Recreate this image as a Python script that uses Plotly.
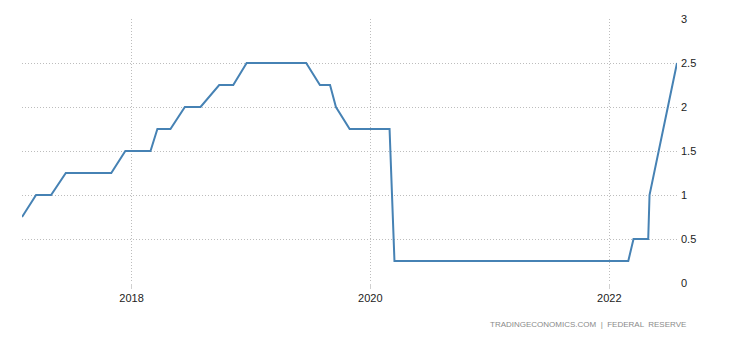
import plotly.graph_objects as go

dates = [
    "2017-01-31", "2017-03-15", "2017-04-30", "2017-06-14", "2017-10-31",
    "2017-12-13", "2018-02-28", "2018-03-21", "2018-04-30", "2018-06-13",
    "2018-07-31", "2018-09-26", "2018-11-08", "2018-12-19", "2019-06-19",
    "2019-07-31", "2019-08-31", "2019-09-18", "2019-10-30", "2020-02-29",
    "2020-03-15", "2022-02-28", "2022-03-16", "2022-04-30", "2022-05-04",
    "2022-06-15", "2022-07-27",
]
rates = [
    0.75, 1.00, 1.00, 1.25, 1.25,
    1.50, 1.50, 1.75, 1.75, 2.00,
    2.00, 2.25, 2.25, 2.50, 2.50,
    2.25, 2.25, 2.00, 1.75, 1.75,
    0.25, 0.25, 0.50, 0.50, 1.00,
    1.75, 2.50,
]
x_ticks = ["2018-01-01", "2020-01-01", "2022-01-01"]
x_tick_labels = ["2018", "2020", "2022"]
y_ticks = [0, 0.5, 1, 1.5, 2, 2.5, 3]
y_tick_labels = ["0", "0.5", "1", "1.5", "2", "2.5", "3"]
source_text = "TRADINGECONOMICS.COM  |  FEDERAL  RESERVE"

fig = go.Figure()
fig.add_trace(go.Scatter(
    x=dates, y=rates, mode="lines",
    line=dict(color="#4682B4", width=2),
    hoverinfo="skip",
))

font = dict(family="Liberation Sans, Arial, sans-serif", size=11, color="#222")

fig.update_layout(
    width=730, height=340,
    margin=dict(l=22, r=53, t=19, b=57),
    paper_bgcolor="white", plot_bgcolor="white",
    showlegend=False,
    font=font,
    xaxis=dict(
        range=[dates[0], dates[-1]],
        tickvals=x_ticks, ticktext=x_tick_labels,
        showgrid=True, gridcolor="#bdbdbd", griddash="1px,2px", gridwidth=1,
        ticks="outside", ticklen=5, tickcolor="#d0d0d0",
        showline=False, zeroline=False,
        tickfont=font,
    ),
    yaxis=dict(
        range=[0, 3], side="right",
        tickvals=y_ticks, ticktext=y_tick_labels,
        showgrid=True, gridcolor="#bdbdbd", griddash="1px,2px", gridwidth=1,
        showline=False, zeroline=False,
        ticks="", ticklabelstandoff=3,
        tickfont=font,
    ),
    annotations=[dict(
        text=source_text, xref="paper", yref="paper",
        x=1.0168, y=-0.159, xanchor="right", yanchor="middle",
        showarrow=False,
        font=dict(family="Liberation Sans, Arial, sans-serif", size=8, color="#8a8a8a"),
    )],
)

fig.write_html("out.html")
